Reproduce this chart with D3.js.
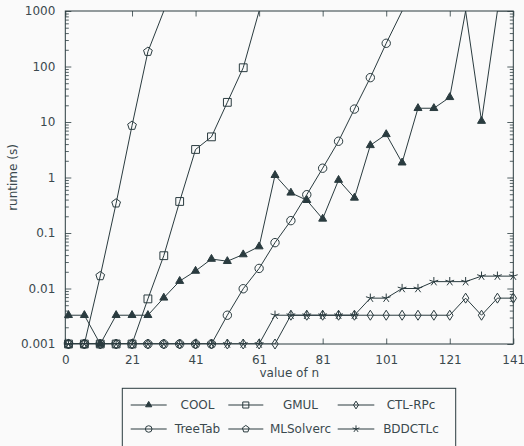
<!DOCTYPE html>
<html>
<head>
<meta charset="utf-8">
<script src="https://cdn.jsdelivr.net/npm/d3@7"></script>
<style>
  html, body { margin: 0; padding: 0; background: #fafafa; }
  svg { display: block; }
  text { font-family: "DejaVu Sans", sans-serif; fill: #3a494e; }
</style>
</head>
<body>
<div id="chart"></div>
<script>
// value of n for every measurement
const nValues = [1, 6, 11, 16, 21, 26, 31, 36, 41, 46, 51, 56, 61, 66, 71, 76, 81, 86, 91, 96, 101, 106, 111, 116, 121, 126, 131, 136, 141];

// runtimes in seconds (1000 = timeout), one entry per n until the tool times out
const cool = [0.0033, 0.0033, 0.001, 0.0033, 0.0033, 0.0033, 0.0068, 0.0136, 0.0207, 0.034, 0.031, 0.041, 0.057, 1.1, 0.53, 0.39, 0.18, 0.9, 0.43, 3.8, 6.0, 1.85, 17.7, 17.7, 27.9, 1000, 10.4, 1000, 1000];
const gmul = [0.001, 0.001, 0.001, 0.001, 0.001, 0.0065, 0.039, 0.37, 3.2, 5.4, 22.6, 95, 1000];
const ctlRPc = [0.001, 0.001, 0.001, 0.001, 0.001, 0.001, 0.001, 0.001, 0.001, 0.001, 0.001, 0.001, 0.001, 0.001, 0.0033, 0.0033, 0.0033, 0.0033, 0.0033, 0.0033, 0.0033, 0.0033, 0.0033, 0.0033, 0.0033, 0.0067, 0.0033, 0.0067, 0.0067];
const treeTab = [0.001, 0.001, 0.001, 0.001, 0.001, 0.001, 0.001, 0.001, 0.001, 0.001, 0.0033, 0.0099, 0.023, 0.067, 0.167, 0.49, 1.47, 4.5, 17.1, 63, 262, 1000];
const mlSolverc = [0.001, 0.001, 0.0168, 0.343, 8.6, 185, 1000];
const bddCTLc = [0.001, 0.001, 0.001, 0.001, 0.001, 0.001, 0.001, 0.001, 0.001, 0.001, 0.001, 0.001, 0.001, 0.0033, 0.0033, 0.0033, 0.0033, 0.0033, 0.0033, 0.0067, 0.0067, 0.01, 0.01, 0.0133, 0.0133, 0.0133, 0.0167, 0.0167, 0.0167];

const seriesNames = ["COOL", "GMUL", "CTL-RPc", "TreeTab", "MLSolverc", "BDDCTLc"];
const seriesValues = [cool, gmul, ctlRPc, treeTab, mlSolverc, bddCTLc];
const seriesMarks = ["triangle", "square", "diamond", "circle", "pentagon", "star"];

const xTicks = [0, 21, 41, 61, 81, 101, 121, 141];
const yTicks = [0.001, 0.01, 0.1, 1, 10, 100, 1000];
const yTickLabels = ["0.001", "0.01", "0.1", "1", "10", "100", "1000"];

const ink = "#2a3b3f";

const W = 524, H = 446;
const margin = { top: 11, right: 10.7, bottom: 102, left: 65.3 },
    width = W - margin.left - margin.right,
    height = H - margin.top - margin.bottom;

const svg = d3.select("#chart")
    .append("svg")
    .attr("width", W)
    .attr("height", H);

const g = svg.append("g")
    .attr("transform", `translate(${margin.left},${margin.top})`);

const x = d3.scaleLinear().domain([0, 141]).range([0, width]);
const y = d3.scaleLog().domain([0.001, 1000]).range([height, 0]);

// minor ticks of the log axis
const minorTicks = y.ticks().filter(v => yTicks.indexOf(v) < 0);

// marker shapes (pgfplots style)
function markPath(type, s) {
  const p = d3.path();
  if (type === "triangle") {
    const r = 4.6 * s;
    p.moveTo(0, -r);
    p.lineTo(r * 0.866, r * 0.5);
    p.lineTo(-r * 0.866, r * 0.5);
    p.closePath();
  } else if (type === "square") {
    const h = 3.9 * s;
    p.rect(-h, -h, 2 * h, 2 * h);
  } else if (type === "circle") {
    p.arc(0, 0, 4.2 * s, 0, 2 * Math.PI);
  } else if (type === "diamond") {
    const w = 3.2 * s, h = 5 * s;
    p.moveTo(0, -h); p.lineTo(w, 0); p.lineTo(0, h); p.lineTo(-w, 0); p.closePath();
  } else if (type === "pentagon") {
    const r = 4.6 * s;
    for (let i = 0; i < 5; i++) {
      const a = -Math.PI / 2 + i * 2 * Math.PI / 5;
      if (i === 0) p.moveTo(r * Math.cos(a), r * Math.sin(a));
      else p.lineTo(r * Math.cos(a), r * Math.sin(a));
    }
    p.closePath();
  } else if (type === "star") {
    const r = 4.6 * s;
    for (let i = 0; i < 5; i++) {
      const a = -Math.PI / 2 + i * 2 * Math.PI / 5;
      p.moveTo(0, 0);
      p.lineTo(r * Math.cos(a), r * Math.sin(a));
    }
  }
  return p.toString();
}

function drawMark(sel, type, s) {
  sel.append("path")
    .attr("d", markPath(type, s))
    .attr("fill", type === "triangle" ? ink : "none")
    .attr("stroke", ink)
    .attr("stroke-width", 1)
    .attr("stroke-linejoin", "miter");
}

// axes with inward ticks
const xBottom = g.append("g")
    .attr("transform", `translate(0,${height})`)
    .call(d3.axisBottom(x).tickValues(xTicks).tickSizeInner(-5.5).tickSizeOuter(0).tickPadding(11));
const xTop = g.append("g")
    .call(d3.axisTop(x).tickValues(xTicks).tickSizeInner(-5.5).tickSizeOuter(0).tickFormat(""));

const yLeft = g.append("g")
    .call(d3.axisLeft(y).tickValues(yTicks).tickSizeInner(-6).tickSizeOuter(0).tickPadding(10)
      .tickFormat((d, i) => yTickLabels[i]));
g.append("g")
    .call(d3.axisLeft(y).tickValues(minorTicks).tickSizeInner(-3.5).tickSizeOuter(0).tickFormat(""));
g.append("g")
    .attr("transform", `translate(${width},0)`)
    .call(d3.axisRight(y).tickValues(yTicks).tickSizeInner(-6).tickSizeOuter(0).tickFormat(""));
g.append("g")
    .attr("transform", `translate(${width},0)`)
    .call(d3.axisRight(y).tickValues(minorTicks).tickSizeInner(-3.5).tickSizeOuter(0).tickFormat(""));

g.selectAll(".domain").remove();
g.selectAll(".tick line").attr("stroke", ink).attr("stroke-width", 0.8);
g.selectAll(".tick text").attr("font-size", 12).attr("fill", "#3a494e")
    .attr("font-family", "DejaVu Sans, sans-serif");

// frame
g.append("rect")
    .attr("width", width)
    .attr("height", height)
    .attr("fill", "none")
    .attr("stroke", ink)
    .attr("stroke-width", 1);

// axis labels
svg.append("text")
    .attr("x", margin.left + width / 2)
    .attr("y", 376.5)
    .attr("text-anchor", "middle")
    .attr("font-size", 12)
    .text("value of n");

svg.append("text")
    .attr("transform", `translate(16.5,${margin.top + height / 2}) rotate(-90)`)
    .attr("text-anchor", "middle")
    .attr("font-size", 12)
    .text("runtime (s)");

// series
g.append("clipPath").attr("id", "plotclip")
  .append("rect").attr("width", width).attr("height", height);

const line = d3.line()
    .x((d, i) => x(nValues[i]))
    .y(d => y(d));

seriesValues.forEach(function (vals, k) {
  g.append("path")
    .datum(vals)
    .attr("clip-path", "url(#plotclip)")
    .attr("fill", "none")
    .attr("stroke", ink)
    .attr("stroke-width", 1)
    .attr("d", line);

  // timeouts (1000) sit on the border and get no marker
  g.append("g").selectAll("g")
    .data(vals.map((v, i) => ({ n: nValues[i], v: v })).filter(d => d.v < 1000))
    .enter()
    .append("g")
    .attr("transform", d => `translate(${x(d.n)},${y(d.v)})`)
    .each(function () { drawMark(d3.select(this), seriesMarks[k], 1); });
});

// legend
const legend = svg.append("g");
legend.append("rect")
    .attr("x", 122.3).attr("y", 388.3)
    .attr("width", 333.4).attr("height", 80)
    .attr("fill", "#fafafa")
    .attr("stroke", ink)
    .attr("stroke-width", 1);

const colLine = [[130.7, 166.7], [228.3, 263.3], [337.7, 374.3]];
const colText = [197.5, 300.5, 411];
const rowY = [405, 429];

seriesNames.forEach(function (name, k) {
  const c = k % 3, r = Math.floor(k / 3);
  const item = legend.append("g");
  item.append("line")
    .attr("x1", colLine[c][0]).attr("x2", colLine[c][1])
    .attr("y1", rowY[r]).attr("y2", rowY[r])
    .attr("stroke", ink).attr("stroke-width", 1);
  const m = item.append("g")
    .attr("transform", `translate(${(colLine[c][0] + colLine[c][1]) / 2},${rowY[r]})`);
  drawMark(m, seriesMarks[k], 0.78);
  item.append("text")
    .attr("x", colText[c])
    .attr("y", rowY[r])
    .attr("dy", "0.36em")
    .attr("text-anchor", "middle")
    .attr("font-size", 12)
    .text(name);
});
</script>
</body>
</html>
